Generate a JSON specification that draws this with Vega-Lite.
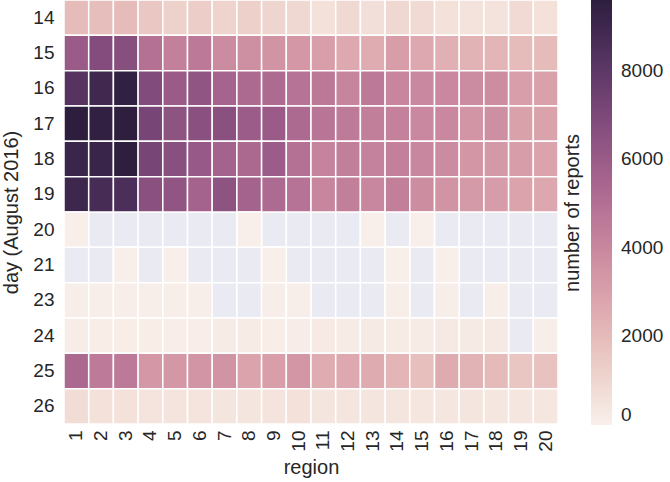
{
"$schema": "https://vega.github.io/schema/vega-lite/v6.json",
"width": 494, "height": 424,
"autosize": {"type": "none"},
"padding": {"left": 64, "top": 0, "right": 112, "bottom": 58},
"background": "white",
"config": {
  "font": "Liberation Sans",
  "view": {"stroke": null},
  "axis": {"domain": false, "ticks": false, "grid": false, "labelFontSize": 19, "labelColor": "#262626", "titleFontSize": 20, "titleFontWeight": "normal", "titleColor": "#262626"}
},
"datasets": {"cells": [
{"day":14,"region":1,"n":1950},{"day":14,"region":2,"n":1900},{"day":14,"region":3,"n":1950},{"day":14,"region":4,"n":1550},{"day":14,"region":5,"n":1150},{"day":14,"region":6,"n":1350},{"day":14,"region":7,"n":1100},{"day":14,"region":8,"n":1250},{"day":14,"region":9,"n":1050},{"day":14,"region":10,"n":950},{"day":14,"region":11,"n":600},{"day":14,"region":12,"n":900},{"day":14,"region":13,"n":650},{"day":14,"region":14,"n":950},{"day":14,"region":15,"n":850},{"day":14,"region":16,"n":600},{"day":14,"region":17,"n":500},{"day":14,"region":18,"n":500},{"day":14,"region":19,"n":850},{"day":14,"region":20,"n":600},
{"day":15,"region":1,"n":6000},{"day":15,"region":2,"n":6800},{"day":15,"region":3,"n":6650},{"day":15,"region":4,"n":4950},{"day":15,"region":5,"n":4300},{"day":15,"region":6,"n":4600},{"day":15,"region":7,"n":3850},{"day":15,"region":8,"n":3700},{"day":15,"region":9,"n":3500},{"day":15,"region":10,"n":3350},{"day":15,"region":11,"n":3050},{"day":15,"region":12,"n":2700},{"day":15,"region":13,"n":2550},{"day":15,"region":14,"n":3100},{"day":15,"region":15,"n":2700},{"day":15,"region":16,"n":2400},{"day":15,"region":17,"n":2300},{"day":15,"region":18,"n":2200},{"day":15,"region":19,"n":1950},{"day":15,"region":20,"n":1950},
{"day":16,"region":1,"n":8250},{"day":16,"region":2,"n":8950},{"day":16,"region":3,"n":9500},{"day":16,"region":4,"n":6850},{"day":16,"region":5,"n":6000},{"day":16,"region":6,"n":6300},{"day":16,"region":7,"n":5550},{"day":16,"region":8,"n":5250},{"day":16,"region":9,"n":5200},{"day":16,"region":10,"n":4850},{"day":16,"region":11,"n":4650},{"day":16,"region":12,"n":4100},{"day":16,"region":13,"n":4550},{"day":16,"region":14,"n":4050},{"day":16,"region":15,"n":3950},{"day":16,"region":16,"n":3950},{"day":16,"region":17,"n":3850},{"day":16,"region":18,"n":3750},{"day":16,"region":19,"n":3050},{"day":16,"region":20,"n":2950},
{"day":17,"region":1,"n":9600},{"day":17,"region":2,"n":9450},{"day":17,"region":3,"n":9550},{"day":17,"region":4,"n":7200},{"day":17,"region":5,"n":6450},{"day":17,"region":6,"n":6550},{"day":17,"region":7,"n":6550},{"day":17,"region":8,"n":5950},{"day":17,"region":9,"n":6000},{"day":17,"region":10,"n":5250},{"day":17,"region":11,"n":4750},{"day":17,"region":12,"n":4500},{"day":17,"region":13,"n":4350},{"day":17,"region":14,"n":4250},{"day":17,"region":15,"n":3950},{"day":17,"region":16,"n":3950},{"day":17,"region":17,"n":3450},{"day":17,"region":18,"n":3700},{"day":17,"region":19,"n":2950},{"day":17,"region":20,"n":2900},
{"day":18,"region":1,"n":9100},{"day":18,"region":2,"n":9150},{"day":18,"region":3,"n":9550},{"day":18,"region":4,"n":7200},{"day":18,"region":5,"n":6600},{"day":18,"region":6,"n":6100},{"day":18,"region":7,"n":5600},{"day":18,"region":8,"n":5300},{"day":18,"region":9,"n":5950},{"day":18,"region":10,"n":4950},{"day":18,"region":11,"n":4150},{"day":18,"region":12,"n":4350},{"day":18,"region":13,"n":4200},{"day":18,"region":14,"n":4300},{"day":18,"region":15,"n":4000},{"day":18,"region":16,"n":3800},{"day":18,"region":17,"n":3400},{"day":18,"region":18,"n":3300},{"day":18,"region":19,"n":3100},{"day":18,"region":20,"n":2850},
{"day":19,"region":1,"n":9050},{"day":19,"region":2,"n":8700},{"day":19,"region":3,"n":8600},{"day":19,"region":4,"n":6550},{"day":19,"region":5,"n":6300},{"day":19,"region":6,"n":5600},{"day":19,"region":7,"n":6450},{"day":19,"region":8,"n":5600},{"day":19,"region":9,"n":5200},{"day":19,"region":10,"n":4850},{"day":19,"region":11,"n":4050},{"day":19,"region":12,"n":4350},{"day":19,"region":13,"n":4000},{"day":19,"region":14,"n":4350},{"day":19,"region":15,"n":3750},{"day":19,"region":16,"n":3500},{"day":19,"region":17,"n":3250},{"day":19,"region":18,"n":3150},{"day":19,"region":19,"n":2850},{"day":19,"region":20,"n":2750},
{"day":20,"region":1,"n":30},{"day":20,"region":2,"n":null},{"day":20,"region":3,"n":null},{"day":20,"region":4,"n":null},{"day":20,"region":5,"n":null},{"day":20,"region":6,"n":null},{"day":20,"region":7,"n":null},{"day":20,"region":8,"n":30},{"day":20,"region":9,"n":null},{"day":20,"region":10,"n":null},{"day":20,"region":11,"n":null},{"day":20,"region":12,"n":null},{"day":20,"region":13,"n":30},{"day":20,"region":14,"n":null},{"day":20,"region":15,"n":30},{"day":20,"region":16,"n":null},{"day":20,"region":17,"n":null},{"day":20,"region":18,"n":null},{"day":20,"region":19,"n":null},{"day":20,"region":20,"n":null},
{"day":21,"region":1,"n":null},{"day":21,"region":2,"n":null},{"day":21,"region":3,"n":40},{"day":21,"region":4,"n":null},{"day":21,"region":5,"n":40},{"day":21,"region":6,"n":null},{"day":21,"region":7,"n":null},{"day":21,"region":8,"n":null},{"day":21,"region":9,"n":40},{"day":21,"region":10,"n":null},{"day":21,"region":11,"n":null},{"day":21,"region":12,"n":null},{"day":21,"region":13,"n":null},{"day":21,"region":14,"n":40},{"day":21,"region":15,"n":null},{"day":21,"region":16,"n":40},{"day":21,"region":17,"n":null},{"day":21,"region":18,"n":null},{"day":21,"region":19,"n":null},{"day":21,"region":20,"n":null},
{"day":23,"region":1,"n":60},{"day":23,"region":2,"n":60},{"day":23,"region":3,"n":60},{"day":23,"region":4,"n":60},{"day":23,"region":5,"n":60},{"day":23,"region":6,"n":60},{"day":23,"region":7,"n":null},{"day":23,"region":8,"n":null},{"day":23,"region":9,"n":60},{"day":23,"region":10,"n":60},{"day":23,"region":11,"n":null},{"day":23,"region":12,"n":null},{"day":23,"region":13,"n":null},{"day":23,"region":14,"n":60},{"day":23,"region":15,"n":null},{"day":23,"region":16,"n":60},{"day":23,"region":17,"n":null},{"day":23,"region":18,"n":60},{"day":23,"region":19,"n":null},{"day":23,"region":20,"n":null},
{"day":24,"region":1,"n":150},{"day":24,"region":2,"n":120},{"day":24,"region":3,"n":120},{"day":24,"region":4,"n":120},{"day":24,"region":5,"n":110},{"day":24,"region":6,"n":110},{"day":24,"region":7,"n":180},{"day":24,"region":8,"n":180},{"day":24,"region":9,"n":130},{"day":24,"region":10,"n":150},{"day":24,"region":11,"n":220},{"day":24,"region":12,"n":200},{"day":24,"region":13,"n":250},{"day":24,"region":14,"n":180},{"day":24,"region":15,"n":180},{"day":24,"region":16,"n":260},{"day":24,"region":17,"n":240},{"day":24,"region":18,"n":280},{"day":24,"region":19,"n":null},{"day":24,"region":20,"n":80},
{"day":25,"region":1,"n":5300},{"day":25,"region":2,"n":4500},{"day":25,"region":3,"n":4600},{"day":25,"region":4,"n":3350},{"day":25,"region":5,"n":3350},{"day":25,"region":6,"n":3450},{"day":25,"region":7,"n":3500},{"day":25,"region":8,"n":2850},{"day":25,"region":9,"n":3050},{"day":25,"region":10,"n":3400},{"day":25,"region":11,"n":2550},{"day":25,"region":12,"n":2700},{"day":25,"region":13,"n":2600},{"day":25,"region":14,"n":2200},{"day":25,"region":15,"n":1850},{"day":25,"region":16,"n":2600},{"day":25,"region":17,"n":2300},{"day":25,"region":18,"n":2000},{"day":25,"region":19,"n":1600},{"day":25,"region":20,"n":1750},
{"day":26,"region":1,"n":750},{"day":26,"region":2,"n":600},{"day":26,"region":3,"n":600},{"day":26,"region":4,"n":480},{"day":26,"region":5,"n":470},{"day":26,"region":6,"n":480},{"day":26,"region":7,"n":450},{"day":26,"region":8,"n":450},{"day":26,"region":9,"n":470},{"day":26,"region":10,"n":600},{"day":26,"region":11,"n":420},{"day":26,"region":12,"n":420},{"day":26,"region":13,"n":420},{"day":26,"region":14,"n":420},{"day":26,"region":15,"n":400},{"day":26,"region":16,"n":400},{"day":26,"region":17,"n":420},{"day":26,"region":18,"n":400},{"day":26,"region":19,"n":380},{"day":26,"region":20,"n":400}
]},
"data": {"name": "cells"},
"encoding": {
  "x": {"field": "region", "type": "ordinal", "scale": {"paddingInner": 0, "paddingOuter": 0}, "axis": {"title": "region", "labelAngle": -90, "labelPadding": 6, "titlePadding": 6}},
  "y": {"field": "day", "type": "ordinal", "scale": {"paddingInner": 0, "paddingOuter": 0}, "axis": {"title": "day (August 2016)", "labelPadding": 10, "titlePadding": 11}}
},
"layer": [
  {"mark": {"type": "rect", "fill": "#EAEAF2", "stroke": "white", "strokeWidth": 1.5}},
  {"transform": [{"filter": "datum.n !== null"}],
   "mark": {"type": "rect", "stroke": "white", "strokeWidth": 1.5},
   "encoding": {"fill": {"field": "n", "type": "quantitative",
     "scale": {"domain": [0, 9600], "nice": false, "zero": false, "range": ["#f9f0eb", "#edd1cb", "#e1b0b4", "#cf91a3", "#b87496", "#9a5b88", "#774576", "#51315e", "#2d1e3e"]},
     "legend": {"orient": "none", "legendX": 499, "legendY": 0, "direction": "vertical", "gradientLength": 425, "gradientThickness": 21, "gradientStrokeWidth": 0, "title": "number of reports", "titleOrient": "left", "titleAnchor": "middle", "titleFontSize": 20, "titleFontWeight": "normal", "titleColor": "#262626", "titlePadding": 7, "labelFontSize": 19, "labelColor": "#262626", "labelOffset": 9, "format": "d", "values": [0, 2000, 4000, 6000, 8000], "padding": 0}}}}
]
}
